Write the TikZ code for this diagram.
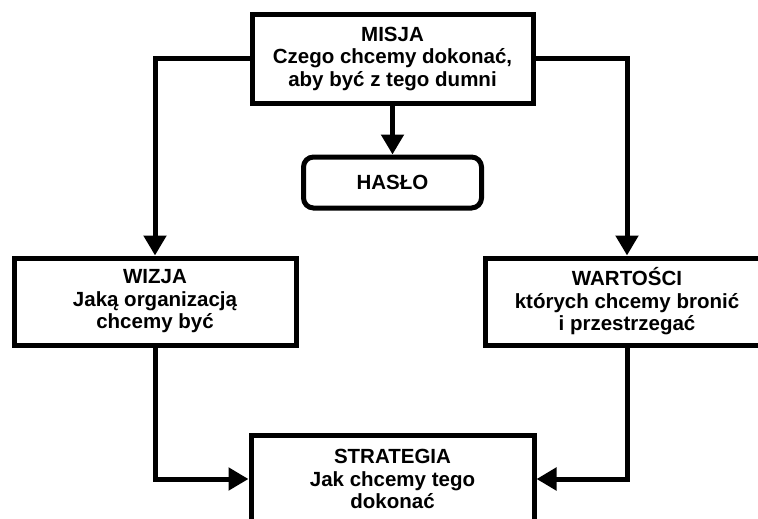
\documentclass[tikz,border=0pt]{standalone}
\usepackage{fontspec}
\setmainfont{Liberation Sans}
\usepackage{tikz}
\usetikzlibrary{arrows.meta, positioning}

\begin{document}
\begin{tikzpicture}[
        x=1pt, y=-1pt,
        node distance=49pt,
        box/.style={rectangle, draw, fill=white, line width=5pt, align=center,
                    font=\fontsize{20.5}{22.5}\selectfont\bfseries,
                    minimum width=282pt, minimum height=87pt, inner sep=0pt},
        motto/.style={box, rounded corners=10pt, minimum width=178pt, minimum height=51pt},
        arrow/.style={line width=5pt, -{Triangle[length=20pt, width=22pt]}}
      ]

      % --- Canvas ---
      \clip (0,0) rectangle (758,519);

      % Top: mission and slogan
      \node (misja) [box, minimum width=281pt, minimum height=88pt] at (392.5,59)
            {MISJA\\Czego chcemy dokonać,\\aby być z tego dumni};
      \node (haslo) [motto, below=49pt of misja] {HASŁO};

      % Middle: vision and values
      \node (wizja) [box] at (155,301.5) {WIZJA\\Jaką organizacją\\chcemy być};
      \node (wartosci) [box, minimum width=284pt] at (627,301.5)
            {WARTOŚCI\\których chcemy bronić\\i przestrzegać};

      % Bottom: strategy
      \node (strategia) [box, minimum width=283pt, minimum height=88pt] at (392.5,479)
            {STRATEGIA\\Jak chcemy tego\\dokonać};

      % --- Arrows ---
      \draw [arrow] (misja) -- (haslo);
      \draw [arrow] (misja.west) -| (wizja.north);
      \draw [arrow] (misja.east) -| (wartosci.north);
      \draw [arrow] (wizja.south) |- (strategia.west);
      \draw [arrow] (wartosci.south) |- (strategia.east);

    \end{tikzpicture}
\end{document}
